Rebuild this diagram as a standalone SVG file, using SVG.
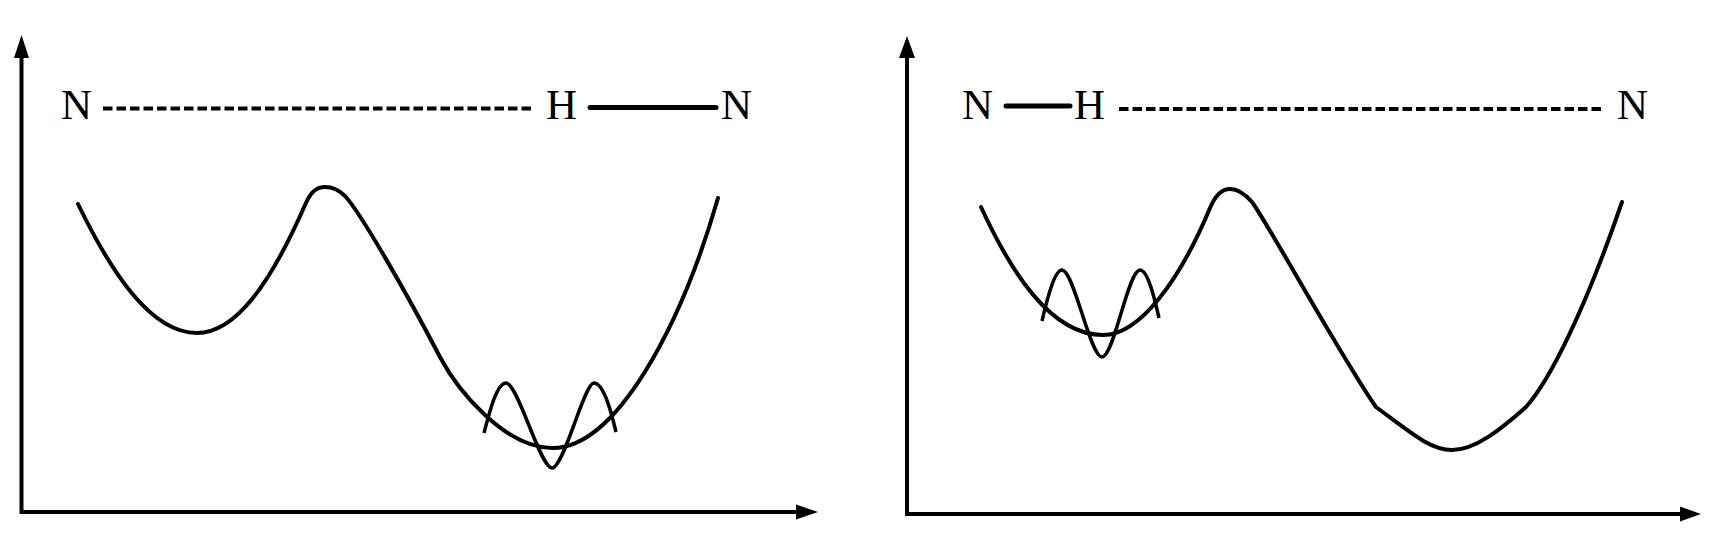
<svg xmlns="http://www.w3.org/2000/svg" width="1719" height="556" viewBox="0 0 1719 556">
<style>
.axis{stroke:#000;stroke-width:4;fill:none}
.head{fill:#000;stroke:none}
.curve{stroke:#000;stroke-width:4;fill:none;stroke-linecap:round;stroke-linejoin:round}
.wave{stroke:#000;stroke-width:3.5;fill:none;stroke-linecap:butt;stroke-linejoin:round}
.dash{stroke:#000;stroke-width:4;stroke-dasharray:9.5 4;fill:none}
.bond{stroke:#000;stroke-width:5;stroke-linecap:round;fill:none}
.lbl{font-family:"Liberation Serif","Times New Roman",serif;font-size:43px;fill:#000}
</style>
<rect width="1719" height="556" fill="#fff"/>
<g id="panel-left">
  <g id="axes-left">
    <polyline class="axis" points="21.5,56 21.5,512 800,512"/>
    <polygon class="head" points="21.5,35 14,58 29,58"/>
    <polygon class="head" points="818,512 796,504.5 796,519.5"/>
  </g>
  <g id="labels-left">
    <text class="lbl" x="61" y="119">N</text>
    <text class="lbl" x="546" y="119">H</text>
    <text class="lbl" x="721" y="119">N</text>
  </g>
  <g id="bonds-left">
    <line class="dash" x1="103" y1="108.5" x2="535" y2="108.5"/>
    <line class="bond" x1="590" y1="107.5" x2="716" y2="107.5"/>
  </g>
  <path id="potential-left" class="curve" d="M78,204 C110,270 150,333 197,333 C235,333 270,285 305,205 C311,191 317,187 325,187 C333,187 339,190 345,196 C360,212 405,290 440,357 C458,391 505,448 553,448 C615,448 680,330 718,198"/>
  <path id="wave-left" class="wave" d="M484,433 C490,410 497,383 506,383 C518,383 540,468 552,468 C564,468 584,383 594,383 C604,383 612,415 616,432"/>
</g>
<g id="panel-right">
  <g id="axes-right">
    <polyline class="axis" points="907,57 907,514 1682,514"/>
    <polygon class="head" points="907,36 899,58 915,58"/>
    <polygon class="head" points="1701,514 1680,506.5 1680,521.5"/>
  </g>
  <g id="labels-right">
    <text class="lbl" x="962" y="119">N</text>
    <text class="lbl" x="1074" y="119">H</text>
    <text class="lbl" x="1617" y="119">N</text>
  </g>
  <g id="bonds-right">
    <line class="bond" x1="1006" y1="106" x2="1070" y2="106"/>
    <line class="dash" x1="1119" y1="109" x2="1605" y2="109"/>
  </g>
  <path id="potential-right" class="curve" d="M981,207 C1010,270 1050,335 1103,335 C1140,335 1180,280 1210,208 C1215,196 1222,189 1230,189 C1238,189 1245,194 1252,202 C1267,222 1340,355 1376,407 C1410,432 1430,450 1452,450 C1475,450 1500,430 1526,407 C1550,380 1585,310 1622,202"/>
  <path id="wave-right" class="wave" d="M1042,321 C1048,295 1055,270 1062,270 C1074,270 1090,357 1102,357 C1114,357 1128,270 1140,270 C1148,270 1155,300 1159,318"/>
</g>
</svg>
